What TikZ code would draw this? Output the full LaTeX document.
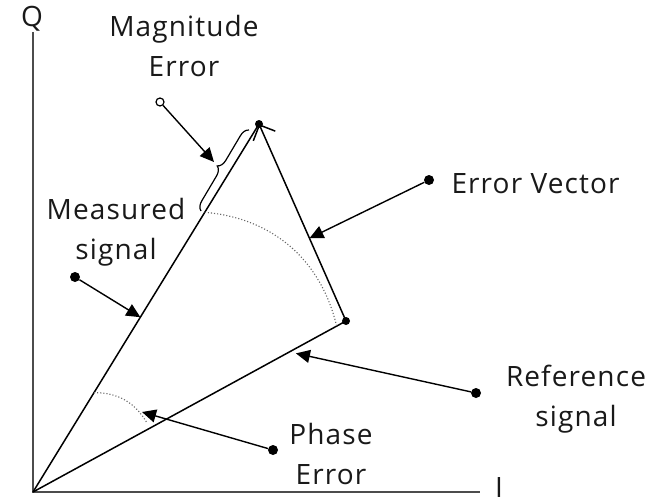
\documentclass[tikz,border=0pt]{standalone}
\usepackage{fontspec}
\setmainfont{Open Sans}[LetterSpace=4]
\usetikzlibrary{arrows.meta,decorations.pathreplacing,calc}

\begin{document}
\begin{tikzpicture}[x=1pt,y=-1pt,
  lbl/.style={font=\fontsize{28}{40}\selectfont,align=center,text=black!90},
  axis/.style={line width=2.4pt,black!70},
  vec/.style={line width=1.5pt},
  ptr/.style={line width=1.4pt,-{Triangle[length=14pt,width=13pt]}},
  blob/.style={circle,fill,inner sep=0pt,minimum size=10pt},
  tipdot/.style={circle,fill,inner sep=0pt,minimum size=8pt},
  guide/.style={dotted,line width=1.1pt,black!60}]
\useasboundingbox (0,0) rectangle (655,503);

\coordinate (O) at (33,492);
\coordinate (Qend) at (33,32);
\coordinate (Iend) at (480,492);
\draw[axis] (Qend) -- (O) -- (Iend);
\node[lbl,anchor=base] (qlab) at (32,27) {Q};
\node[lbl,anchor=base] (ilab) at (499,497) {I};

\node[tipdot] (M) at (259,124) {};
\node[tipdot] (R) at (346,321) {};
\draw[vec] (O) -- (M.center);
\draw[vec] (O) -- (R.center);
\draw[vec,-{Straight Barb[length=12pt,width=24pt,line width=1.5pt]}] (R.center) -- (M.center);

% dotted arcs
\coordinate (a1) at ($(O)!0.76!(M)$);
\coordinate (a2) at ($(O)!0.97!(R)$);
\draw[guide] (a1) to[bend left=36] (a2);
\coordinate (p1) at ($(O)!0.27!(M)$);
\coordinate (p2) at (147,423);
\draw[guide] (p1) to[bend left=30] (p2);

% magnitude brace
\coordinate (b1) at (201,211);
\coordinate (b2) at (249,130);
\draw[line width=1.2pt,decorate,decoration={brace,amplitude=9pt}] (b1) -- (b2);

% labels and pointers
\node[lbl] (maglab) at (184,46) {Magnitude\\Error};
\node[circle,draw,line width=1.2pt,inner sep=0pt,minimum size=8pt,fill=white] (magdot) at (160,102) {};
\draw[ptr] (magdot) -- (214,162);

\node[lbl] (measlab) at (116,232) {Measured\\signal};
\node[blob] (measdot) at (75,277) {};
\coordinate (meastip) at ($(O)!0.475!(M)$);
\draw[ptr] (measdot) -- (meastip);

\node[blob] (evdot) at (429,180) {};
\node[lbl,anchor=base west] (evlab) at (448,193) {Error Vector};
\coordinate (evtip) at ($(R)!0.42!(M)$);
\draw[ptr] (evdot) -- (evtip);

\node[lbl] (reflab) at (576,399) {Reference\\signal};
\node[blob] (refdot) at (476,393) {};
\coordinate (reftip) at ($(O)!0.84!(R)+(0,5)$);
\draw[ptr] (refdot) -- (reftip);

\node[lbl] (phlab) at (331,454) {Phase\\Error};
\node[blob] (phdot) at (273,450) {};
\coordinate (phtip) at (142,412);
\draw[ptr] (phdot) -- (phtip);
\end{tikzpicture}
\end{document}
